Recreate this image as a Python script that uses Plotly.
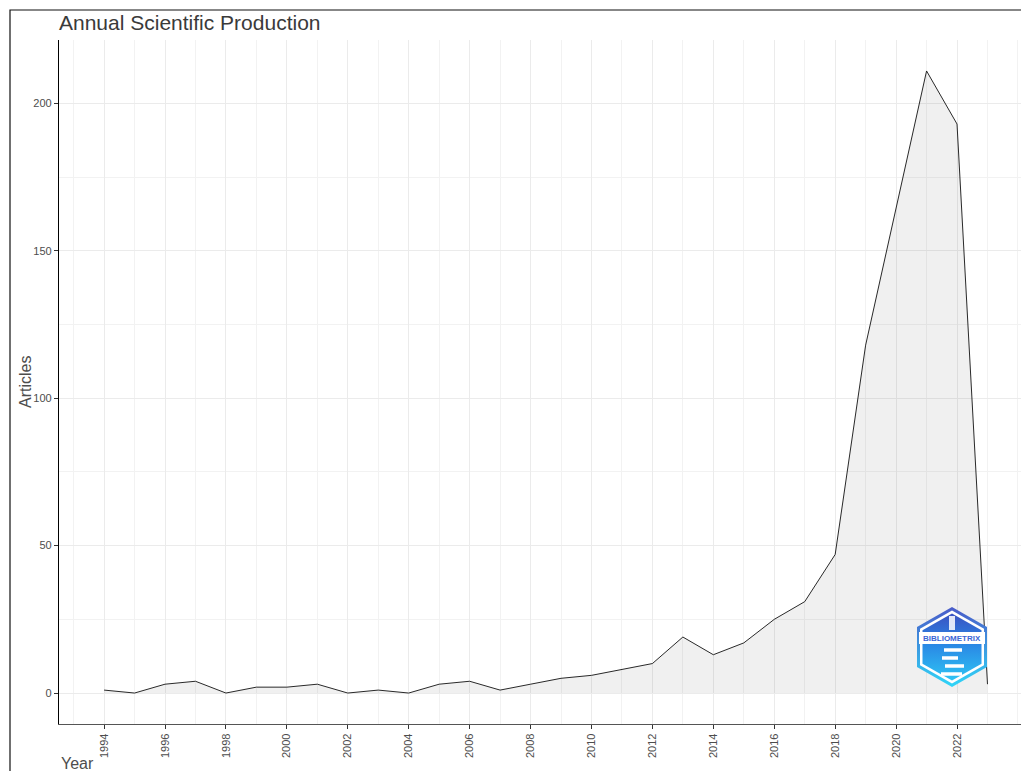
import plotly.graph_objects as go

# ---------------- data ----------------
years = list(range(1994, 2024))
articles = [1, 0, 3, 4, 0, 2, 2, 3, 0, 1,
            0, 3, 4, 1, 3, 5, 6, 8, 10, 19,
            13, 17, 25, 31, 47, 118, 165, 211, 193, 3]
x_tick_years = years[::2]          # 1994 ... 2022
y_tick_values = [0, 50, 100, 150, 200]

TITLE = "Annual Scientific Production"
X_TITLE = "Year"
Y_TITLE = "Articles"

# ---------------- layout geometry (pixels) ----------------
W, H = 1021, 771
L, R, T, B = 59, 1021, 40, 724

def px(x):
    return (x - L) / (R - L)

def py(y):
    return (B - y) / (B - T)

fig = go.Figure()

fig.add_trace(go.Scatter(
    x=years, y=articles, mode="lines",
    line=dict(color="#111111", width=0.9),
    fill="tozeroy", fillcolor="rgba(0,0,0,0.06)",
    hoverinfo="x+y", showlegend=False,
))

# ---------------- logo (decoration, drawn in pixel space on overlay axes) ----------------
def hexagon(cx, cy, hw, hh):
    xs = [cx, cx + hw, cx + hw, cx, cx - hw, cx - hw, cx]
    ys = [cy - hh, cy - hh / 2, cy + hh / 2, cy + hh, cy + hh / 2, cy - hh / 2, cy - hh]
    return xs, ys

cx, cy = 952, 647
for hw, hh, grad, solid in [
    (35, 40, [[0, "#2fd6f8"], [1, "#4a5bc9"]], None),
    (32, 36.5, None, "#ffffff"),
    (29.5, 33.5, [[0, "#2ec4f4"], [0.55, "#2a86e4"], [1, "#3a52c2"]], None),
]:
    xs, ys = hexagon(cx, cy, hw, hh)
    kw = dict(x=xs, y=ys, mode="lines", fill="toself", line=dict(width=0),
              hoverinfo="skip", showlegend=False, xaxis="x2", yaxis="y2")
    if grad:
        kw["fillgradient"] = dict(type="vertical", colorscale=grad)
    else:
        kw["fillcolor"] = solid
    fig.add_trace(go.Scatter(**kw))

# lighthouse lantern
fig.add_trace(go.Scatter(
    x=[949, 955, 955, 949, 949], y=[616, 616, 630, 630, 616],
    mode="lines", fill="toself", fillcolor="rgba(255,255,255,0.85)",
    line=dict(width=0), hoverinfo="skip", showlegend=False, xaxis="x2", yaxis="y2"))
# staircase stripes
for (x0, x1, yy) in [(944, 962, 650), (942, 958, 658), (945, 964, 666), (941, 962, 674)]:
    fig.add_trace(go.Scatter(
        x=[x0, x1], y=[yy, yy], mode="lines",
        line=dict(color="white", width=3.5),
        hoverinfo="skip", showlegend=False, xaxis="x2", yaxis="y2"))

fig.add_shape(type="rect", xref="x2", yref="y2", x0=919, x1=985, y0=632, y1=644,
              fillcolor="white", line=dict(width=0), layer="above")
fig.add_annotation(x=952, y=638, xref="x2", yref="y2", text="<b>BIBLIOMETRIX</b>",
                   showarrow=False, font=dict(family="Liberation Sans", size=8, color="#3a66d6"))

# ---------------- outer frame ----------------
fig.add_shape(type="rect", xref="paper", yref="paper",
              x0=px(10), x1=px(1060), y0=py(800), y1=py(10),
              line=dict(color="#111111", width=1.2), fillcolor="rgba(0,0,0,0)", layer="above")

# ---------------- text ----------------
fig.add_annotation(x=0, y=py(764), xref="paper", yref="paper", xanchor="left", yanchor="middle",
                   text=X_TITLE, showarrow=False,
                   font=dict(family="Liberation Sans", size=16, color="#4d4d4d"))
fig.add_annotation(x=px(25), y=0.5, xref="paper", yref="paper", xanchor="center", yanchor="middle",
                   text=Y_TITLE, textangle=-90, showarrow=False,
                   font=dict(family="Liberation Sans", size=16, color="#4d4d4d"))

fig.update_layout(
    width=W, height=H,
    margin=dict(l=L, r=W - R, t=T, b=H - B, pad=0),
    paper_bgcolor="white", plot_bgcolor="white",
    font=dict(family="Liberation Sans", color="#4d4d4d"),
    title=dict(text=TITLE, x=L / W, xref="container", xanchor="left",
               y=(H - 23) / H, yanchor="middle",
               font=dict(family="Liberation Sans", size=21, color="#3a3a3a")),
    xaxis=dict(
        range=[1992.52, 2024.1], tickmode="array", tickvals=x_tick_years,
        ticktext=[str(v) for v in x_tick_years], tickangle=-90,
        tickfont=dict(size=11, color="#4d4d4d"),
        ticks="outside", ticklen=4, tickcolor="#333333", tickwidth=1,
        showline=True, linecolor="#555555", linewidth=1.3,
        showgrid=True, gridcolor="#ebebeb", gridwidth=1, zeroline=False,
        minor=dict(tickmode="linear", tick0=1993, dtick=1, showgrid=True,
                   gridcolor="#f2f2f2", gridwidth=1, ticks=""),
    ),
    yaxis=dict(
        range=[-10.5, 221.5], tickmode="array", tickvals=y_tick_values,
        ticktext=[str(v) for v in y_tick_values],
        tickfont=dict(size=11, color="#4d4d4d"),
        ticks="outside", ticklen=4, tickcolor="#333333", tickwidth=1,
        showline=True, linecolor="#000000", linewidth=1.2,
        showgrid=True, gridcolor="#ebebeb", gridwidth=1, zeroline=False,
        minor=dict(tickmode="linear", tick0=25, dtick=50, showgrid=True,
                   gridcolor="#f2f2f2", gridwidth=1, ticks=""),
    ),
    xaxis2=dict(overlaying="x", range=[L, R], visible=False, fixedrange=True),
    yaxis2=dict(overlaying="y", range=[B, T], visible=False, fixedrange=True),
)

fig.write_html("out.html")
